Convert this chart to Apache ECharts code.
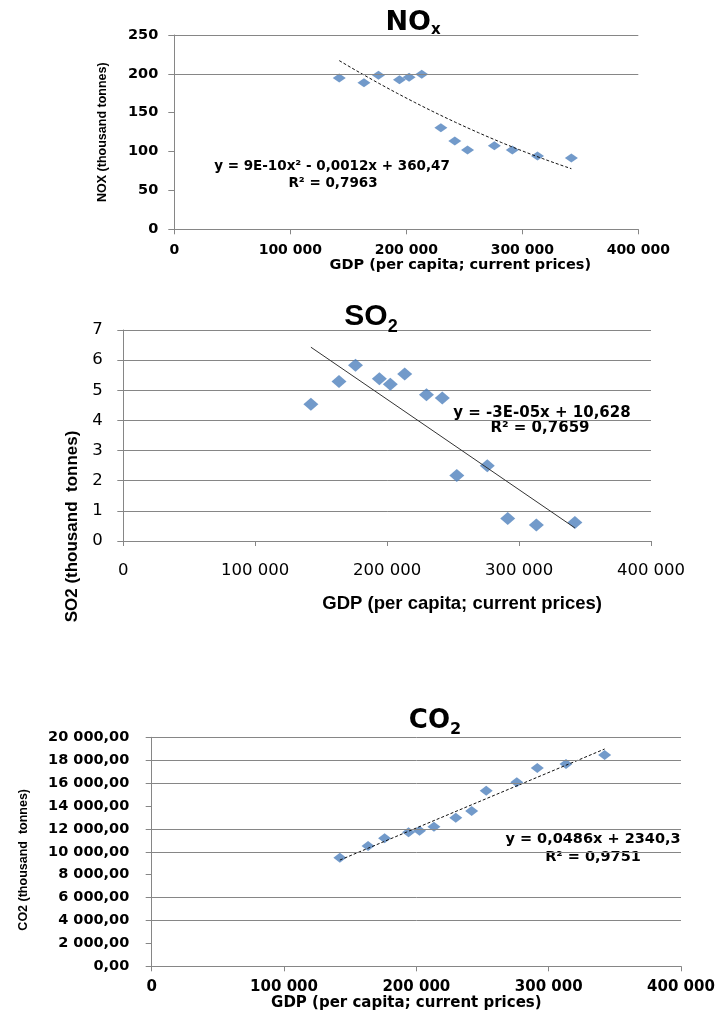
<!DOCTYPE html>
<html><head><meta charset="utf-8">
<script src="https://cdn.jsdelivr.net/npm/echarts@6/dist/echarts.min.js"></script>
<style>html,body{margin:0;padding:0;background:#fff}#c{width:718px;height:1012px}</style>
</head><body><div id="c"></div>
<script>
// ---- data ----
const gdp = [142200, 163500, 176000, 194100, 202400, 213300, 229800, 241800, 252800, 275900, 291400, 313100, 342300];
const nox = [194.7, 188.6, 198.1, 192.5, 195.6, 199.4, 130.7, 113.6, 102.0, 107.6, 102.0, 94.3, 91.7];
const so2 = [4.54, 5.29, 5.83, 5.38, 5.20, 5.54, 4.85, 4.74, 2.17, 2.50, 0.75, 0.53, 0.61];
const co2 = [9485, 10507, 11179, 11703, 11843, 12192, 12978, 13563, 15336, 16070, 17319, 17668, 18454];
const xTickValues = [0, 100000, 200000, 300000, 400000];
const noxVisibleGrid = [200, 250];
const co2VisibleGrid = [4000, 6000, 10000, 12000, 16000, 18000, 20000];
const noxEquation = ['y = 9E-10x² - 0,0012x + 360,47', 'R² = 0,7963'];
const so2Equation = ['y = -3E-05x + 10,628', 'R² = 0,7659'];
const co2Equation = ['y = 0,0486x + 2340,3', 'R² = 0,9751'];
const xTitle = 'GDP (per capita; current prices)';

// ---- trendlines: least-squares fits of the data ----
function linFit(xs, ys) {
  const n = xs.length; let sx=0, sy=0, sxx=0, sxy=0;
  for (let i=0;i<n;i++){sx+=xs[i];sy+=ys[i];sxx+=xs[i]*xs[i];sxy+=xs[i]*ys[i];}
  const b = (n*sxy - sx*sy)/(n*sxx - sx*sx); const a = (sy - b*sx)/n;
  return x => a + b*x;
}
function quadFit(xs, ys) {
  const u = xs.map(x => x/1e5); const S=[0,0,0,0,0], T=[0,0,0];
  for (let i=0;i<u.length;i++){ for(let k=0;k<5;k++) S[k]+=Math.pow(u[i],k); for(let k=0;k<3;k++) T[k]+=Math.pow(u[i],k)*ys[i]; }
  const M = [[S[4],S[3],S[2],T[2]],[S[3],S[2],S[1],T[1]],[S[2],S[1],S[0],T[0]]];
  for (let i=0;i<3;i++){ for(let j=i+1;j<3;j++){ const f=M[j][i]/M[i][i]; for(let k=i;k<4;k++) M[j][k]-=f*M[i][k]; } }
  const r=[0,0,0]; for(let i=2;i>=0;i--){ let s=M[i][3]; for(let k=i+1;k<3;k++) s-=M[i][k]*r[k]; r[i]=s/M[i][i]; }
  return x => { const v=x/1e5; return r[0]*v*v + r[1]*v + r[2]; };
}
const xMin = Math.min(...gdp), xMax = Math.max(...gdp);
const noxF = quadFit(gdp, nox), so2F = linFit(gdp, so2), co2F = linFit(gdp, co2);
const curveX = []; for (let i=0;i<=40;i++) curveX.push(xMin + (xMax-xMin)*i/40);
const noxTrend = curveX.map(x => [x, noxF(x)]);
const so2Trend = [[xMin, so2F(xMin)], [xMax, so2F(xMax)]];
const co2Trend = [[xMin, co2F(xMin)], [xMax, co2F(xMax)]];
const pts = ys => gdp.map((x,i) => [x, ys[i]]);

function sp(v){ return String(v).replace(/\B(?=(\d{3})+(?!\d))/g, ' '); }

const AX = '#868686';
const DJ = 'DejaVu Sans', LS = 'Liberation Sans';
function xAxisCfg(gi, font, size, weight, margin, nameGap, namePad, nameSize, nameFont) {
  return { gridIndex: gi, type: 'value', min: 0, max: 400000, interval: 100000,
    axisLine: {show: true, lineStyle: {color: AX}}, axisTick: {show: true, length: 5, lineStyle: {color: AX}},
    splitLine: {show: false},
    axisLabel: {formatter: v => sp(v), fontFamily: font, fontSize: size, fontWeight: weight, color: '#000', margin: margin},
    name: xTitle, nameLocation: 'middle', nameGap: nameGap,
    nameTextStyle: {fontFamily: nameFont, fontWeight: 'bold', fontSize: nameSize, color: '#000', padding: namePad} };
}
function yAxisCfg(gi, max, interval, fmt, font, size, weight, margin, split, name, nameGap, namePad, nameSize, nameFont) {
  return { gridIndex: gi, type: 'value', min: 0, max: max, interval: interval,
    axisLine: {show: true, lineStyle: {color: AX}}, axisTick: {show: true, length: 6, lineStyle: {color: AX}},
    splitLine: {show: split, lineStyle: {color: AX, width: 1}},
    axisLabel: {formatter: fmt, fontFamily: font, fontSize: size, fontWeight: weight, color: '#000', margin: margin},
    name: name, nameLocation: 'middle', nameGap: nameGap,
    nameTextStyle: {fontFamily: nameFont, fontWeight: 'bold', fontSize: nameSize, color: '#000', padding: namePad} };
}
function gridLines(vals) {
  return { silent: true, symbol: ['none','none'], animation: false, label: {show: false},
    lineStyle: {color: AX, type: 'solid', width: 1}, data: vals.map(v => ({yAxis: v})) };
}
const MK = '#4F81BD';

const chart = echarts.init(document.getElementById('c'));
chart.setOption({
  animation: false,
  backgroundColor: '#fff',
  title: [
    {text: '{a|NO}{b|x}', left: 413, top: 7, textAlign: 'center', padding: 0,
     textStyle: {rich: {a: {fontFamily: DJ, fontWeight: 'bold', fontSize: 27, lineHeight: 31, verticalAlign: 'middle', color: '#000'},
                        b: {fontFamily: DJ, fontWeight: 'bold', fontSize: 15, verticalAlign: 'bottom', color: '#000'}}}},
    {text: '{a|SO}{b|2}', left: 371, top: 298, textAlign: 'center', padding: 0,
     textStyle: {rich: {a: {fontFamily: LS, fontWeight: 'bold', fontSize: 30, lineHeight: 38, verticalAlign: 'middle', color: '#000'},
                        b: {fontFamily: LS, fontWeight: 'bold', fontSize: 18, verticalAlign: 'bottom', color: '#000'}}}},
    {text: '{a|CO}{b|2}', left: 435, top: 704, textAlign: 'center', padding: 0,
     textStyle: {rich: {a: {fontFamily: DJ, fontWeight: 'bold', fontSize: 26, lineHeight: 34, verticalAlign: 'middle', color: '#000'},
                        b: {fontFamily: DJ, fontWeight: 'bold', fontSize: 16, verticalAlign: 'bottom', color: '#000'}}}}
  ],
  grid: [
    {left: 174.3, top: 35, width: 464, height: 194.3},
    {left: 123.3, top: 330, width: 527.7, height: 211},
    {left: 151.7, top: 737.3, width: 529.3, height: 229}
  ],
  xAxis: [
    xAxisCfg(0, DJ, 14, 'bold', 14, 28, [0,0,0,108], 14.5, DJ),
    xAxisCfg(1, DJ, 16.5, 'normal', 21, 53, [0,0,0,150], 18.5, LS),
    xAxisCfg(2, DJ, 15, 'bold', 13.5, 28, [0,20,0,0], 15, DJ)
  ],
  yAxis: [
    yAxisCfg(0, 250, 50, v => String(v), DJ, 14.5, 'bold', 16, false, 'NOX (thousand tonnes)', 65, [0,0,0,0], 12.5, LS),
    yAxisCfg(1, 7, 1, v => String(v), DJ, 16.5, 'normal', 20.6, true, 'SO2 (thousand  tonnes)', 39, [0,182,0,0], 17, LS),
    yAxisCfg(2, 20000, 2000, v => sp(v) + ',00', DJ, 14.5, 'bold', 22.4, false, 'CO2 (thousand  tonnes)', 122, [0,16,0,0], 12.5, LS)
  ],
  series: [
    {type: 'scatter', xAxisIndex: 0, yAxisIndex: 0, data: pts(nox), symbol: 'diamond', symbolSize: [13, 9],
     itemStyle: {color: MK}, markLine: gridLines(noxVisibleGrid), z: 3},
    {type: 'line', xAxisIndex: 0, yAxisIndex: 0, data: noxTrend, symbol: 'none', smooth: false,
     lineStyle: {color: '#111', width: 1, type: [3, 2]}, z: 4},
    {type: 'scatter', xAxisIndex: 1, yAxisIndex: 1, data: pts(so2), symbol: 'diamond', symbolSize: [15, 13],
     itemStyle: {color: MK}, z: 3},
    {type: 'line', xAxisIndex: 1, yAxisIndex: 1, data: so2Trend, symbol: 'none',
     lineStyle: {color: '#333', width: 1}, z: 4},
    {type: 'scatter', xAxisIndex: 2, yAxisIndex: 2, data: pts(co2), symbol: 'diamond', symbolSize: [13, 10],
     itemStyle: {color: MK}, markLine: gridLines(co2VisibleGrid), z: 3},
    {type: 'line', xAxisIndex: 2, yAxisIndex: 2, data: co2Trend, symbol: 'none',
     lineStyle: {color: '#111', width: 1, type: [3, 2]}, z: 4}
  ],
  graphic: [
    {type: 'text', x: 332, y: 166, style: {text: noxEquation[0], font: 'bold 13.5px "DejaVu Sans"', fill: '#000', align: 'center', verticalAlign: 'middle'}},
    {type: 'text', x: 333, y: 183, style: {text: noxEquation[1], font: 'bold 13.5px "DejaVu Sans"', fill: '#000', align: 'center', verticalAlign: 'middle'}},
    {type: 'text', x: 542, y: 413, style: {text: so2Equation[0], font: 'bold 15px "DejaVu Sans"', fill: '#000', align: 'center', verticalAlign: 'middle'}},
    {type: 'text', x: 540, y: 428, style: {text: so2Equation[1], font: 'bold 15px "DejaVu Sans"', fill: '#000', align: 'center', verticalAlign: 'middle'}},
    {type: 'text', x: 593, y: 839, style: {text: co2Equation[0], font: 'bold 14.5px "DejaVu Sans"', fill: '#000', align: 'center', verticalAlign: 'middle'}},
    {type: 'text', x: 593, y: 857, style: {text: co2Equation[1], font: 'bold 14.5px "DejaVu Sans"', fill: '#000', align: 'center', verticalAlign: 'middle'}}
  ]
});
</script>
</body></html>
